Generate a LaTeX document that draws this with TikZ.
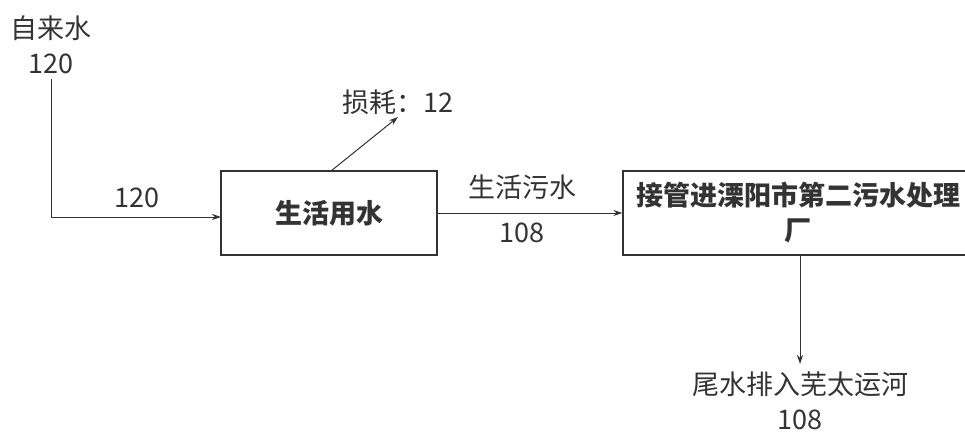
\documentclass[tikz,border=0pt]{standalone}
\usepackage{fontspec}
\setmainfont{Noto Sans CJK SC}
\usetikzlibrary{arrows.meta}
\definecolor{ink}{HTML}{333333}
\begin{document}
\begin{tikzpicture}[x=1pt,y=-1pt,
  every node/.style={text=ink, font=\fontsize{27}{35}\selectfont, inner sep=0pt, align=center},
  box/.style={draw=ink, line width=1.3pt, minimum height=84pt},
  arr/.style={draw=ink, line width=1pt, -{Stealth[length=9pt,width=6pt]}}]
\useasboundingbox (0,0) rectangle (965,431);
\clip (0,0) rectangle (965,431);
\node[box, minimum width=216pt] (use) at (329,213) {\bfseries 生活用水};
\node[box, minimum width=350pt] (wwtp) at (798,213) {\bfseries 接管进溧阳市第二污水处理\\\bfseries 厂};
\node (tap) at (51,45) {自来水\\120};
\node (loss) at (398,102) {损耗：12};
\node (outlet) at (800,401) {尾水排入芜太运河\\108};
\node (inlbl) at (137,198) {120};
\node (midtop) at (522,187) {生活污水};
\node (midbot) at (522,233) {108};
\coordinate (inend) at (221,217);
\coordinate (lossstart) at (331,171);
\coordinate (lossend) at (398,117);
\coordinate (outend) at (800,364);
\draw[arr] (51,79) |- (inend);
\draw[arr] (lossstart) -- (lossend);
\draw[arr] (use.east) -- (wwtp.west);
\draw[arr] (wwtp.south -| outend) -- (outend);
\end{tikzpicture}
\end{document}
